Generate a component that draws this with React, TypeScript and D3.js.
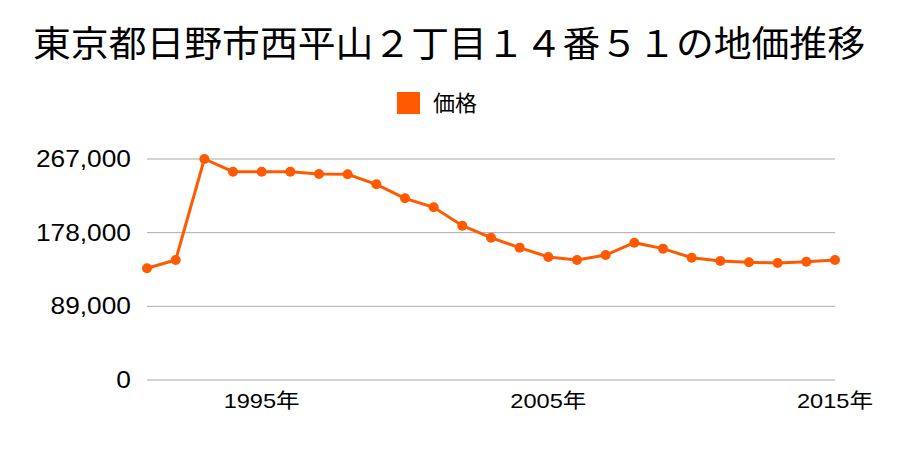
import React from "react";
import * as d3 from "d3";

const years = [1991,1992,1993,1994,1995,1996,1997,1998,1999,2000,2001,2002,2003,2004,2005,2006,2007,2008,2009,2010,2011,2012,2013,2014,2015];
const prices = [135000,145000,267000,251700,251700,251700,248900,248500,236400,219500,208600,186400,171900,159900,148600,145000,151000,165900,158700,147800,143800,142200,141400,142900,145000];
const yTicks = [0, 89000, 178000, 267000];
const xTickYears = [1995, 2005, 2015];
const title = "東京都日野市西平山２丁目１４番５１の地価推移";
const seriesName = "価格";

const W = 900, H = 450;
const cjk = "'Noto Sans CJK JP', sans-serif";
const latin = "'Liberation Sans', 'Noto Sans CJK JP', sans-serif";
const color = "#ff5a00";

export default function App() {
  const x = d3.scaleLinear().domain([1991, 2015]).range([147, 835]);
  const y = d3.scaleLinear().domain([0, 267000]).range([380, 159]);
  const line = d3.line<number>().x((_, i) => x(years[i])).y(d => y(d));
  const fmt = d3.format(",");
  return (
    <svg width={W} height={H} style={{ position: "absolute", left: 0, top: 0, background: "#fff" }}>
      <text x={449} y={57} textAnchor="middle" fontSize={36} fontFamily={cjk} fill="#000"
        textLength={832} lengthAdjust="spacingAndGlyphs">{title}</text>
      <rect x={397} y={92} width={23} height={22} fill={color} />
      <text x={433} y={111} fontSize={22} fontFamily={cjk} fill="#000">{seriesName}</text>
      {yTicks.map(t => (
        <g key={t}>
          <line x1={147} x2={835} y1={y(t)} y2={y(t)} stroke="#aaaaaa" strokeWidth={1} />
          <text transform={`translate(131,${y(t) + 8}) scale(1.12,1)`} textAnchor="end" fontSize={23.5}
            fontFamily={latin} fill="#000">{fmt(t)}</text>
        </g>
      ))}
      {xTickYears.map(t => (
        <text key={t} transform={`translate(${x(t)},${408}) scale(1.18,1)`} textAnchor="middle" fontSize={20}
          fontFamily={latin} fill="#000">{t}年</text>
      ))}
      <path d={line(prices) || ""} fill="none" stroke={color} strokeWidth={3} />
      {prices.map((p, i) => (
        <circle key={i} cx={x(years[i])} cy={y(p)} r={5} fill={color} />
      ))}
    </svg>
  );
}
